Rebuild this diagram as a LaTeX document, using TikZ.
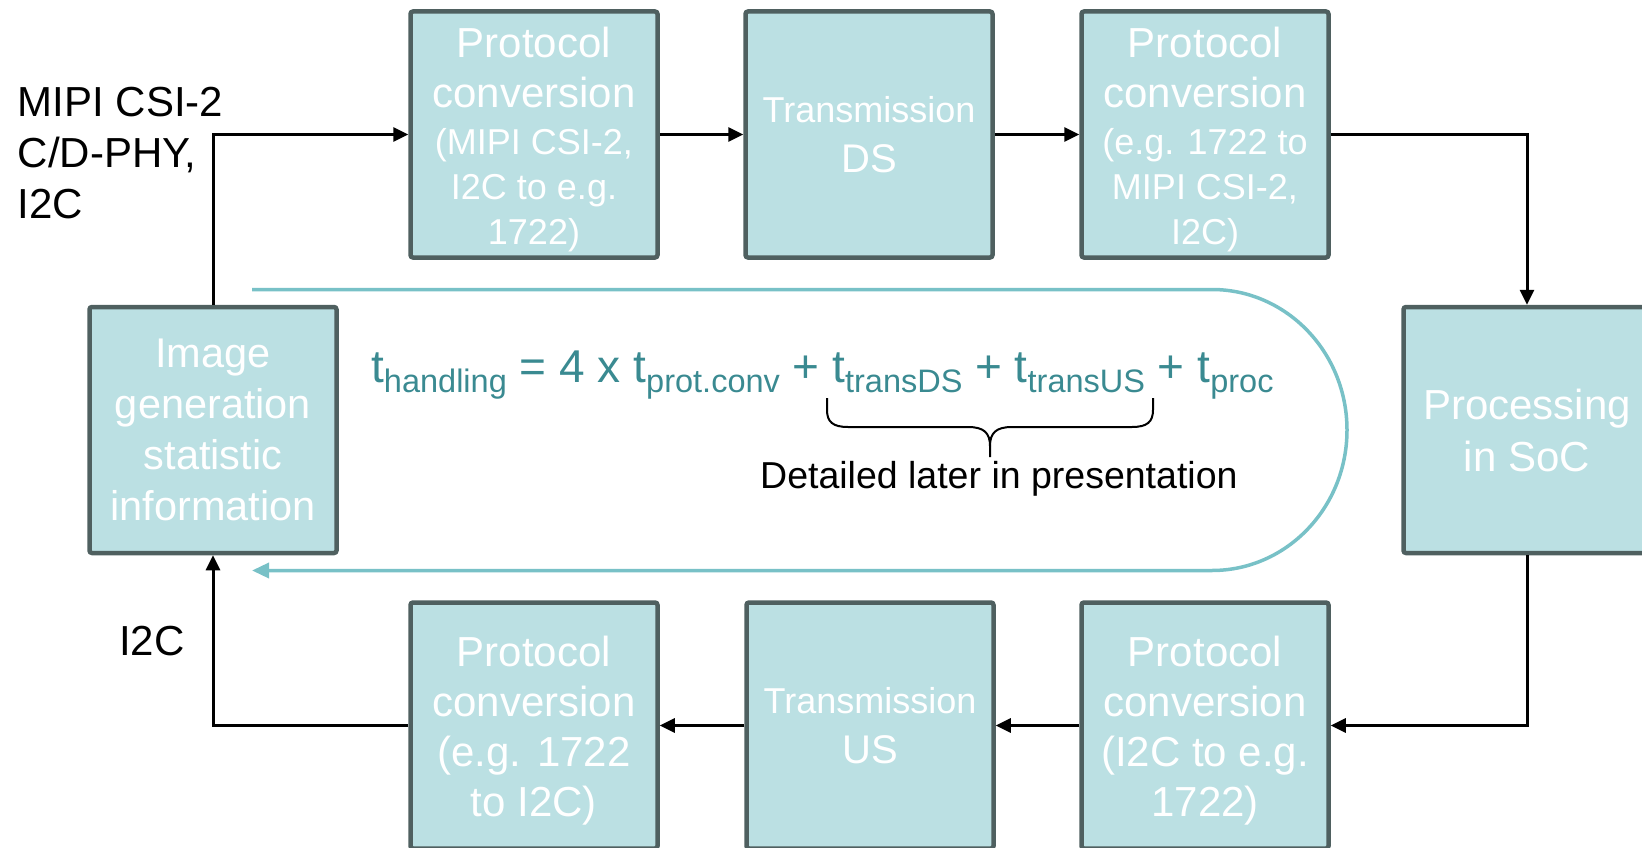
\documentclass[tikz,border=0pt]{standalone}
\usepackage{fontspec}
\setmainfont{Liberation Sans}
\usetikzlibrary{arrows.meta}
\definecolor{boxfill}{RGB}{187,224,227}
\definecolor{boxline}{RGB}{79,96,96}
\definecolor{loopcol}{RGB}{120,193,199}
\definecolor{formula}{RGB}{58,138,145}
\newcommand{\sbs}[1]{\raisebox{-10pt}{\fontsize{32.5}{32.5}\selectfont #1}}
\newcommand{\dnstrut}{\rule{0pt}{41pt}}
\newcommand{\smallln}[1]{{\fontsize{36}{45}\selectfont #1}}
\begin{document}
\begin{tikzpicture}[x=1pt,y=-1pt,
  blk/.style={draw=boxline, fill=boxfill, line width=4.5pt, rounded corners=2.5pt,
    minimum width=247pt, minimum height=246pt, inner sep=0pt, text=white,
    align=center, font=\fontsize{42}{50}\selectfont},
  flow/.style={draw=black, line width=3pt, -{Triangle[length=15pt,width=14pt]}},
  loopline/.style={draw=loopcol, line width=3.5pt, -{Triangle[length=17pt,width=15pt]}},
  lbl/.style={inner sep=0pt, text=black, align=left, font=\fontsize{42}{51}\selectfont},
]
\useasboundingbox (0,0) rectangle (1642,848);

% top row
\node[blk] (A) at (534,134.5) {\dnstrut Protocol\\conversion\\[-3pt]\smallln{(MIPI CSI-2,}\\[-5pt]\smallln{I2C to e.g.}\\[-5pt]\smallln{1722)}};
\node[blk, font=\fontsize{36}{50}\selectfont] (B) at (869,134.5) {Transmission\\{\fontsize{40}{50}\selectfont DS}};
\node[blk] (C) at (1205,134.5) {\dnstrut Protocol\\conversion\\[-3pt]\smallln{(e.g. 1722 to}\\[-5pt]\smallln{MIPI CSI-2,}\\[-5pt]\smallln{I2C)}};
% middle row
\node[blk, font=\fontsize{41.5}{51}\selectfont] (IG) at (213,430) {Image\\generation\\statistic\\information};
\node[blk, font=\fontsize{42}{52}\selectfont] (P) at (1527,430) {Processing\\in SoC};
% bottom row
\node[blk] (D) at (534,725.5) {\dnstrut Protocol\\conversion\\(e.g. 1722\\to I2C)};
\node[blk, font=\fontsize{36}{50}\selectfont] (E) at (870,725.5) {Transmission\\{\fontsize{40}{50}\selectfont US}};
\node[blk] (F) at (1205,725.5) {\dnstrut Protocol\\conversion\\(I2C to e.g.\\1722)};

% connectors
\draw[flow] (IG.north) |- (A.west);
\draw[flow] (A) -- (B);
\draw[flow] (B) -- (C);
\draw[flow] (C.east) -| (P.north);
\draw[flow] (P.south) |- (F.east);
\draw[flow] (F) -- (E);
\draw[flow] (E) -- (D);
\draw[flow] (D.west) -| (IG.south);

% labels
\node[lbl, anchor=west] (mipi) at (17.5,153) {MIPI CSI-2\\C/D-PHY,\\I2C};
\node[lbl, anchor=west] (i2c) at (119,641) {I2C};

% teal loop
\coordinate (ls) at (252,289.5);
\coordinate (lr) at (1212,289.5);
\coordinate (le) at (252,570.5);
\draw[loopline] (ls) -- (lr) arc[start angle=90,end angle=-90,x radius=135pt,y radius=140.5pt] -- (le);

% formula
\node[anchor=base west, inner sep=0pt, text=formula, font=\fontsize{46}{46}\selectfont] (eq) at (371,382)
  {t\sbs{handling} = 4 x t\sbs{prot.conv} + t\sbs{transDS} + t\sbs{transUS} + t\sbs{proc}};

% brace
\draw[line width=2pt] (827,398) -- (827,410) .. controls (827,422) and (833,427) .. (848,427)
  -- (968,427) .. controls (984,427) and (990,433) .. (990,446) -- (990,457);
\draw[line width=2pt] (1153,398) -- (1153,410) .. controls (1153,422) and (1147,427) .. (1132,427)
  -- (1012,427) .. controls (996,427) and (990,433) .. (990,446);
\node[anchor=base west, inner sep=0pt, font=\fontsize{37.5}{37.5}\selectfont] (det) at (760,488) {Detailed later in presentation};
\end{tikzpicture}
\end{document}
